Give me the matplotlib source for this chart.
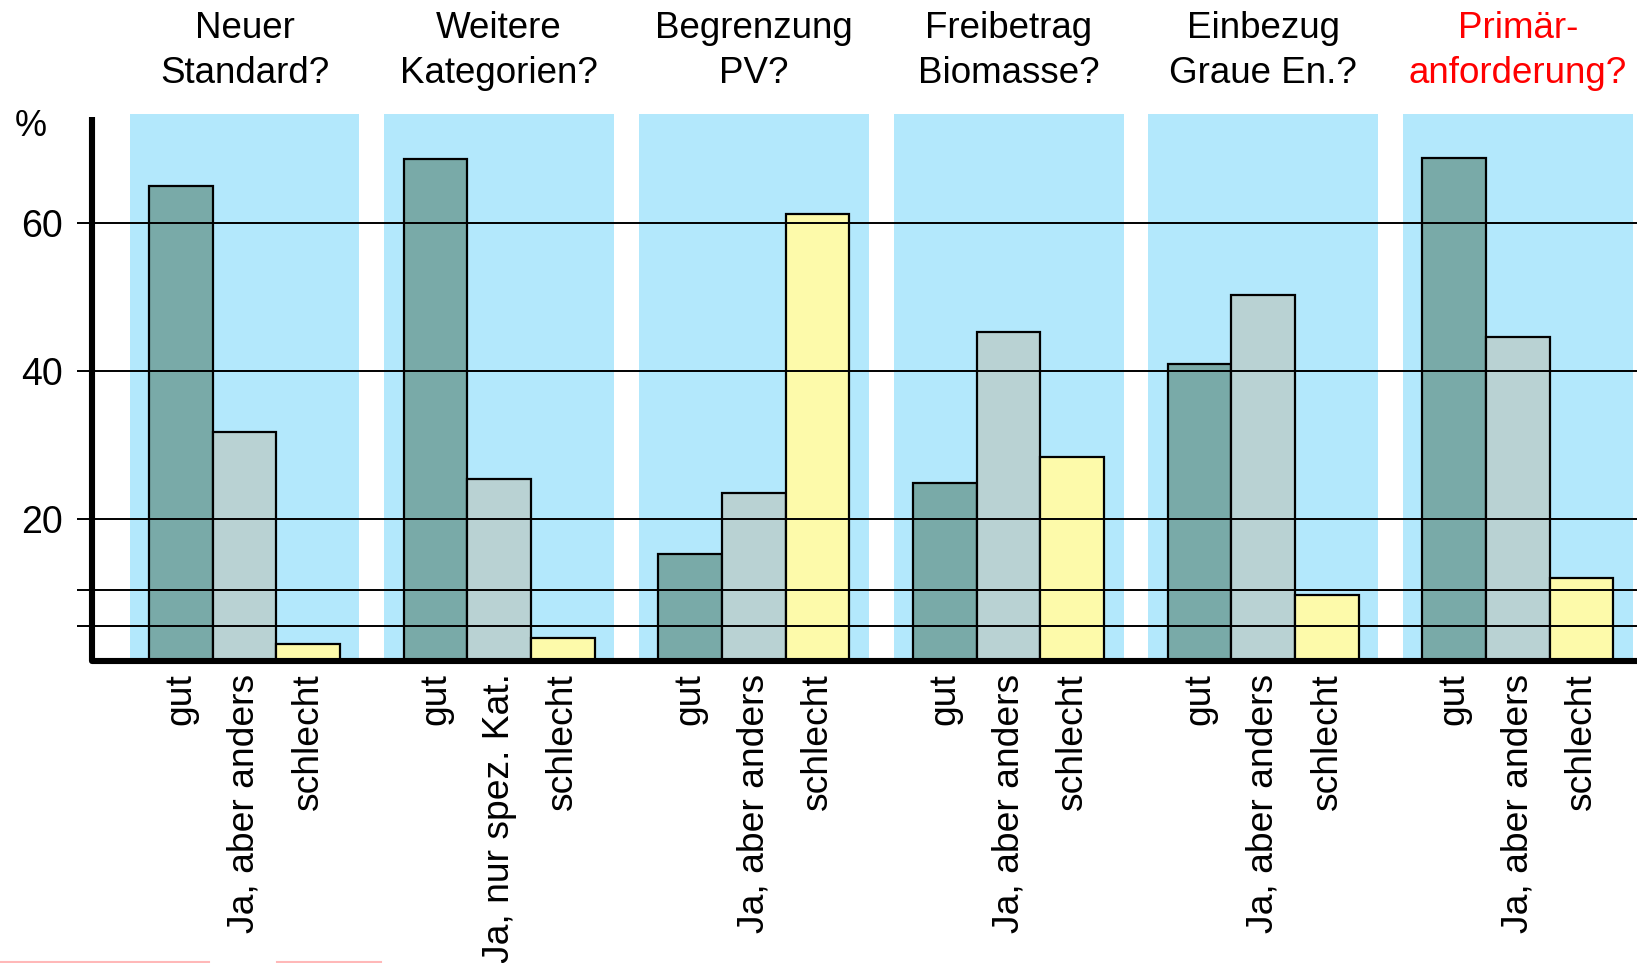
import matplotlib
matplotlib.use("Agg")
import matplotlib.pyplot as plt
from matplotlib.lines import Line2D

plt.rcParams["font.family"] = ["Liberation Sans", "DejaVu Sans"]

questions = [
    "Neuer\nStandard?",
    "Weitere\nKategorien?",
    "Begrenzung\nPV?",
    "Freibetrag\nBiomasse?",
    "Einbezug\nGraue En.?",
    "Primär-\nanforderung?",
]
answer_labels = [
    ["gut", "Ja, aber anders", "schlecht"],
    ["gut", "Ja, nur spez. Kat.", "schlecht"],
    ["gut", "Ja, aber anders", "schlecht"],
    ["gut", "Ja, aber anders", "schlecht"],
    ["gut", "Ja, aber anders", "schlecht"],
    ["gut", "Ja, aber anders", "schlecht"],
]
gut = [64.9, 68.6, 15.3, 24.8, 40.9, 68.7]
ja_anders = [31.7, 25.4, 23.5, 45.2, 50.2, 44.5]
schlecht = [3.1, 4.0, 61.2, 28.4, 9.7, 12.1]
highlighted = [False, False, False, False, False, True]

y_ticks = [20, 40, 60]
ref_lines = [60, 40, 20, 10.4, 5.6]

c_gut = "#79AAA8"
c_ja = "#B9D2D3"
c_schlecht = "#FDFAAA"
c_panel = "#B3E8FC"

fig = plt.figure(figsize=(16.37, 9.63), dpi=100)
# axes frame: y axis at x=92px, x axis at y=661px, panel top at y=114px
ax = fig.add_axes([92 / 1637, (963 - 661) / 963, (1637 - 92) / 1637, (661 - 114) / 963])

group_step = 4
centers = [i * group_step for i in range(len(questions))]
ax.set_xlim(-2.395, 21.87)
ax.set_ylim(0.84, 74.65)

for c in centers:
    ax.axvspan(c - 1.806, c + 1.806, color=c_panel, lw=0, zorder=0)

series = [gut, ja_anders, schlecht]
colors = [c_gut, c_ja, c_schlecht]
tick_pos = []
tick_lab = []
for k, (vals, col) in enumerate(zip(series, colors)):
    xs = [c + (k - 1) for c in centers]
    ax.bar(xs, vals, width=1.0, color=col, edgecolor="black", linewidth=1.6, zorder=2)
for i, c in enumerate(centers):
    for k in range(3):
        tick_pos.append(c + (k - 1))
        tick_lab.append(answer_labels[i][k])

ax.hlines(ref_lines, -2.63, 21.87, colors="black", linewidth=1.4, zorder=3, clip_on=False)

# thick axis lines with rounded corner
ax.plot([-2.395, -2.395, 21.87], [74.2, 0.84, 0.84], color="black", lw=4.4,
        solid_joinstyle="round", solid_capstyle="butt", zorder=5, clip_on=False)

for s in ax.spines.values():
    s.set_visible(False)

ax.set_yticks(y_ticks)
ax.set_yticklabels([str(v) for v in y_ticks], fontsize=27)
ax.tick_params(axis="y", length=0, pad=21)

ax.set_xticks(tick_pos)
ax.set_xticklabels(tick_lab, rotation=90, fontsize=26.8, va="top", ha="center")
ax.tick_params(axis="x", length=0, pad=9)

fig.text(30.5 / 1637, 1 - 126 / 963, "%", fontsize=26, ha="center", va="center")

for c, q, hl in zip(centers, questions, highlighted):
    ax.text(c, 1.1145, q, transform=ax.get_xaxis_transform(), ha="center", va="center",
            fontsize=26.5, linespacing=1.37, color="red" if hl else "black")

# faint pink strokes at the bottom edge
for x0, x1 in [(0, 209), (277, 381)]:
    fig.add_artist(Line2D([x0 / 1637, x1 / 1637], [1.5 / 963, 1.5 / 963], color="#FFB8B8", lw=1.5))

fig.savefig("out.png", dpi=100)
